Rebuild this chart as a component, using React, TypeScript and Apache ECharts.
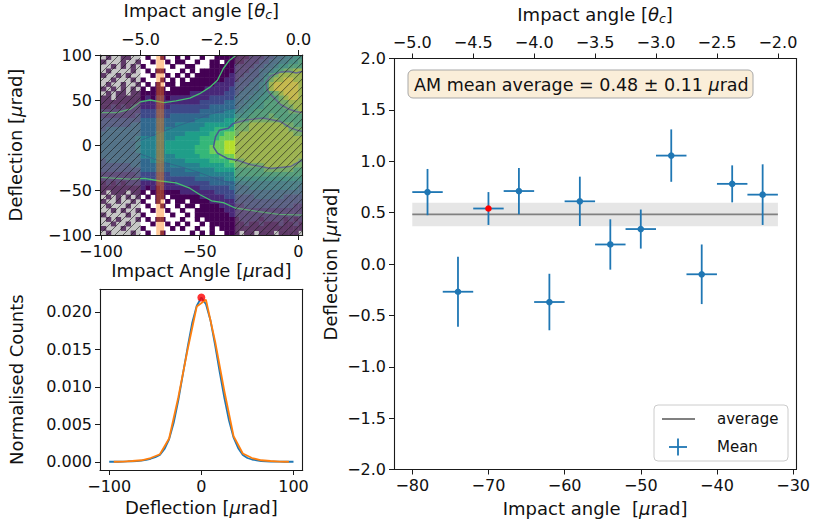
import React, { useEffect, useRef } from "react";
import * as echarts from "echarts";

const FONT = "DejaVu Sans, Verdana, sans-serif";
const BLUE = "#1f77b4";
const ORANGE = "#ff7f0e";
const INK = "#111111";
const VIRIDIS = ["#440154", "#482878", "#3e4989", "#31688e", "#26828e", "#1f9e89", "#35b779", "#6ece58", "#b5de2b", "#fde725"];
const THETA_C = 16; // µrad per critical angle

// ---------- right panel: mean deflection per impact-angle bin ----------
const BIN_ANGLE = [-78, -74, -70, -66, -62, -58, -54, -50, -46, -42, -38, -34];
const BIN_MEAN = [0.7, -0.27, 0.54, 0.71, -0.37, 0.61, 0.19, 0.34, 1.055, -0.1, 0.78, 0.675];
const BIN_YERR = [0.225, 0.34, 0.16, 0.225, 0.275, 0.24, 0.245, 0.19, 0.255, 0.29, 0.18, 0.295];
const BIN_XERR = [2, 2, 2, 2, 2, 2, 2, 2, 2, 2, 2, 2];
const SELECTED_ANGLE = -70;
const AVG = 0.482;
const AVG_ERR = 0.115;
const AVG_SPAN = [-80, -32];
const MEAN_X_RANGE = [-82.4, -29.6];
const MEAN_X_TICKS = [-80, -70, -60, -50, -40, -30];
const MEAN_Y_TICKS = [-2, -1.5, -1, -0.5, 0, 0.5, 1, 1.5, 2];
const MEAN_THETA_TICKS = [-5, -4.5, -4, -3.5, -3, -2.5, -2];

// ---------- lower-left panel: deflection distribution of the selected slice ----------
const DIST_X_FINE = [-100, -95, -90, -85, -80, -75, -70, -65, -60, -55, -50, -45, -40, -35, -30, -25, -20, -15, -10, -5, 0, 5, 10, 15, 20, 25, 30, 35, 40, 45, 50, 55, 60, 65, 70, 75, 80, 85, 90, 95, 100];
const DIST_FINE = [0, 0, 0, 0.00002, 0.00004, 0.00007, 0.0001, 0.00015, 0.00025, 0.0004, 0.0006, 0.0009, 0.0017, 0.003, 0.0052, 0.0082, 0.0117, 0.0152, 0.0185, 0.0208, 0.0219, 0.021, 0.0188, 0.0155, 0.0119, 0.0085, 0.0055, 0.0032, 0.0018, 0.0009, 0.0005, 0.0003, 0.0002, 0.0001, 0.00006, 0.00003, 0.00002, 0.00001, 0, 0, 0];
const DIST_X_COARSE = [-95, -85, -75, -65, -55, -45, -35, -25, -15, -5, 5, 15, 25, 35, 45, 55, 65, 75, 85, 95];
const DIST_COARSE = [0, 0.00003, 0.0001, 0.0002, 0.0005, 0.001, 0.0031, 0.0086, 0.0149, 0.0207, 0.0216, 0.016, 0.0094, 0.0034, 0.0011, 0.0005, 0.0002, 0.0001, 0.00003, 0];
const DIST_PEAK = [0, 0.0219];
const DIST_X_RANGE = [-110, 110];
const DIST_Y_RANGE = [-0.0011, 0.023];
const DIST_X_TICKS = [-100, 0, 100];
const DIST_Y_TICKS = [0, 0.005, 0.01, 0.015, 0.02];

// ---------- top-left panel: 2D histogram (deflection vs impact angle) ----------
// each row: 41 bins of 2.5 in x starting at -100, row r covers deflection 100-5r .. 95-5r
// '.' = empty bin, digits = colour level (viridis)
const HEAT_X_START = -100;
const HEAT_X_STEP = 2.5;
const HEAT_Y_TOP = 100;
const HEAT_Y_STEP = 5;
const HEAT_ROWS = [
  ".0..00.. .0.. 0..0 .0.. 0..0 000 00011122334455",
  "0...0..0 ..0. .0.0 0..0 ..00 .00 00111223344556",
  "..0.0.0. 0... ..0. .00. ..00 000 11112233455666",
  ".0....0. .0.0 0... 0.0. 0000 000 11122334567788",
  "0..0.0.. ..0. .0.0 .0.0 0000 001 11222346788888",
  "..0...0. 0... 0.0. 0.00 0000 011 12223357889988",
  ".0..0..0 .0.0 .00. 0000 0001 111 22233458999998",
  "0.0.0.0. 0.00 0.00 0000 0111 112 22333458999998",
  ".0.00.00 0000 0000 0011 1111 122 23334456789998",
  "00.00000 0101 1011 1111 1122 222 33344556678998",
  "00000000 1111 1111 1111 2222 233 33445566677888",
  "00101011 1111 1122 2222 2233 333 34455566667788",
  "11111111 2222 2222 2222 3333 344 44556666666778",
  "11111112 2222 2233 3333 3344 444 55566667666666",
  "22222222 3333 3333 3334 4444 455 66677777766666",
  "22222233 3333 3334 4444 4555 555 77788888887766",
  "23333333 3333 3444 4444 5556 666 77788888888777",
  "33333333 3334 4444 4555 5566 677 78888888888877",
  "33333334 4444 4445 5555 6666 777 88888888888888",
  "33333334 4444 4555 5555 6667 788 88888888888888",
  "33333334 4444 4555 5556 6677 788 88888888888888",
  "33333334 4444 4555 5556 6677 788 88888888888888",
  "33333333 4444 4445 5555 6666 777 88888888888888",
  "23333333 3344 4444 4555 5566 667 77888888888887",
  "22222233 3333 3344 4444 5555 566 77777788888877",
  "22222222 3333 3333 3444 4445 555 66666677777766",
  "11111112 2222 2233 3333 4444 444 66666666666666",
  "11111111 2222 2222 2223 3333 344 55555555555555",
  "01010111 1111 1112 2222 2233 333 44444444444444",
  "00000000 1010 1111 1111 2222 223 33344444444443",
  "0.000.00 0.00 0000 1111 1112 222 33333333333333",
  ".0.0.0.0 .0.0 0.00 0000 1111 122 22223333332222",
  "0..0..0. 0..0 .0.0 0.00 0011 111 22222222222222",
  ".0...0.. .0.. 0..0 .00. 0000 111 11222222222211",
  "..0.0..0 ..0. .0.. 0..0 0000 011 11111111111111",
  "0....0.. 0... ..0. .0.0 0000 001 11111111111111",
  ".0.0...0 .0.0 0... 0..0 .000 000 01111011110101",
  "..0..0.. ..0. .0.0 .0.. 0.00 000 00100100010010",
  "0...0... 0... ..0. 0..0 ..0. 000 00000000000000",
  ".0....0. .0.. 0... ..0. 0.0. .00 0.00.000.0000.",
];
const HEAT_X_RANGE = [-100.5, 2.2];
const HEAT_Y_RANGE = [-100, 100];
const HEAT_X_TICKS = [-100, -50, 0];
const HEAT_Y_TICKS = [-100, -50, 0, 50, 100];
const HEAT_THETA_TICKS = [-5, -2.5, 0];
const ROI = [-80, -32];
const SLICE = [-72, -68];

// contour lines of the histogram (impact angle, deflection)
const CONTOUR_BLOB = [[2.2, 82], [-1, 80], [-5, 82], [-9, 81], [-14, 77], [-16.5, 70], [-16, 62], [-14, 56], [-9, 45], [-5, 40], [-1, 37], [2.2, 36]];
const CONTOUR_CORE = [[2.2, 15], [0, 16], [-4, 19], [-9, 26], [-18, 30], [-26, 28], [-33, 24], [-35.5, 18.5], [-40, 16.5], [-42, 9], [-43, -2], [-41, -9], [-36, -15], [-31, -17], [-24, -22], [-14, -26], [-4, -24], [0, -19], [2.2, -17]];
const CONTOUR_MID_UP = [[-86, 2], [-80, 5], [-70, 14], [-60, 22], [-51, 29], [-45, 34], [-38, 38], [-32, 41], [-26, 46]];
const CONTOUR_MID_LO = [[-86, -8], [-80, -10], [-70, -18], [-60, -24], [-51, -30], [-45, -35], [-38, -40], [-32, -43], [-26, -47]];
const CONTOUR_EDGE_UP = [[-100.5, 36], [-92, 36], [-85, 40], [-80, 48], [-75, 50], [-68, 47], [-62, 49], [-55, 52], [-50, 57], [-45, 64], [-41, 72], [-38, 85], [-35, 94], [-32, 99]];
const CONTOUR_EDGE_LO = [[-100.5, -36], [-92, -37], [-85, -38], [-78, -37], [-70, -40], [-62, -42], [-55, -48], [-50, -55], [-44, -62], [-38, -64], [-32, -70], [-20, -74], [-10, -77], [2.2, -78]];

// ---------- helpers ----------
const minus = (s: string) => s.replace("-", "\u2212");
const f0 = (v: number) => minus(String(Math.round(v)));
const f1 = (v: number) => minus(v.toFixed(1));
const f3 = (v: number) => minus(v.toFixed(3));

const LINE = { color: "#1a1a1a", width: 1.1 };
const nameRich = {
  a: { fontFamily: FONT, fontSize: 18, color: INK },
  i: { fontFamily: FONT, fontSize: 18, color: INK, fontStyle: "italic" },
  s: { fontFamily: FONT, fontSize: 12.5, color: INK, fontStyle: "italic", verticalAlign: "bottom", padding: [8, 0, 0, 0] },
};

function axis(grid: number, pos: string, range: number[], ticks: number[] | null, fmt: any, extra: any = {}) {
  return {
    type: "value",
    gridIndex: grid,
    position: pos,
    min: range[0],
    max: range[1],
    z: 10,
    axisLine: { show: true, onZero: false, lineStyle: LINE },
    axisTick: ticks
      ? { show: true, length: 5, lineStyle: { color: "#1a1a1a", width: 1 }, customValues: ticks }
      : { show: false },
    axisLabel: ticks
      ? { show: true, customValues: ticks, formatter: fmt, fontFamily: FONT, fontSize: 16, color: INK, margin: 8, lineHeight: 16 }
      : { show: false },
    splitLine: { show: false },
    nameTextStyle: { rich: nameRich },
    nameLocation: "middle",
    ...extra,
  };
}

const heatCells: number[][] = [];
HEAT_ROWS.forEach((row, r) => {
  const s = row.replace(/ /g, "");
  for (let c = 0; c < s.length; c++) {
    const ch = s[c];
    if (ch === ".") continue;
    heatCells.push([HEAT_X_START + c * HEAT_X_STEP, HEAT_Y_TOP - r * HEAT_Y_STEP, Number(ch)]);
  }
});

const contour = (data: number[][], color: string, width: number) => ({
  type: "line",
  xAxisIndex: 0,
  yAxisIndex: 0,
  data,
  symbol: "none",
  silent: true,
  z: 2,
  lineStyle: { color, width },
});

function buildOption() {
  return {
    animation: false,
    backgroundColor: "#ffffff",
    grid: [
      { left: 100, top: 55, width: 202.7, height: 180 },
      { left: 100, top: 289.3, width: 202.7, height: 180.7 },
      { left: 394, top: 55, width: 403.3, height: 414.5 },
    ],
    xAxis: [
      axis(0, "bottom", HEAT_X_RANGE, HEAT_X_TICKS, f0, { name: "{a|Impact Angle [}{i|μ}{a|rad]}", nameGap: 26 }),
      axis(0, "top", [HEAT_X_RANGE[0] / THETA_C, HEAT_X_RANGE[1] / THETA_C], HEAT_THETA_TICKS, f1, {
        name: "{a|Impact angle [}{i|θ}{s|c}{a|]}",
        nameGap: 34,
      }),
      axis(1, "bottom", DIST_X_RANGE, DIST_X_TICKS, f0, { name: "{a|Deflection [}{i|μ}{a|rad]}", nameGap: 28 }),
      axis(1, "top", DIST_X_RANGE, null, null),
      axis(2, "bottom", MEAN_X_RANGE, MEAN_X_TICKS, f0, { name: "{a|Impact angle  [}{i|μ}{a|rad]}", nameGap: 30 }),
      axis(2, "top", [MEAN_X_RANGE[0] / THETA_C, MEAN_X_RANGE[1] / THETA_C], MEAN_THETA_TICKS, f1, {
        name: "{a|Impact angle [}{i|θ}{s|c}{a|]}",
        nameGap: 34,
      }),
    ],
    yAxis: [
      axis(0, "left", HEAT_Y_RANGE, HEAT_Y_TICKS, f0, { name: "{a|Deflection [}{i|μ}{a|rad]}", nameGap: 76 }),
      axis(0, "right", HEAT_Y_RANGE, null, null),
      axis(1, "left", DIST_Y_RANGE, DIST_Y_TICKS, f3, { name: "{a|Normalised Counts}", nameGap: 75 }),
      axis(1, "right", DIST_Y_RANGE, null, null),
      axis(2, "left", [-2, 2], MEAN_Y_TICKS, f1, { name: "{a|Deflection [}{i|μ}{a|rad]}", nameGap: 55 }),
      axis(2, "right", [-2, 2], null, null),
    ],
    series: [
      {
        type: "custom",
        xAxisIndex: 0,
        yAxisIndex: 0,
        clip: true,
        silent: true,
        z: 1,
        encode: { x: 0, y: 1 },
        data: heatCells,
        renderItem: (_p: any, api: any) => {
          const x0 = api.value(0);
          const y0 = api.value(1);
          const lv = api.value(2);
          const a = api.coord([x0, y0]);
          const b = api.coord([x0 + HEAT_X_STEP, y0 - HEAT_Y_STEP]);
          return {
            type: "rect",
            shape: { x: a[0], y: a[1], width: b[0] - a[0] + 0.4, height: b[1] - a[1] + 0.4 },
            style: { fill: VIRIDIS[lv] },
          };
        },
      },
      contour(CONTOUR_MID_UP, "rgba(59,82,139,0.55)", 1),
      contour(CONTOUR_MID_LO, "rgba(59,82,139,0.55)", 1),
      contour(CONTOUR_EDGE_UP, "#45bf70", 1.3),
      contour(CONTOUR_EDGE_LO, "#45bf70", 1.3),
      contour(CONTOUR_BLOB, "#4a5893", 1.5),
      contour(CONTOUR_CORE, "#4a5893", 1.5),
      {
        type: "custom",
        xAxisIndex: 0,
        yAxisIndex: 0,
        clip: true,
        silent: true,
        z: 3,
        encode: { x: [0, 1] },
        data: [[SLICE[0], SLICE[1]]],
        renderItem: (_p: any, api: any) => {
          const a = api.coord([api.value(0), HEAT_Y_RANGE[1]]);
          const b = api.coord([api.value(1), HEAT_Y_RANGE[0]]);
          return {
            type: "rect",
            shape: { x: a[0], y: a[1], width: b[0] - a[0], height: b[1] - a[1] },
            style: { fill: "rgba(255,127,14,0.42)" },
          };
        },
      },
      {
        type: "custom",
        xAxisIndex: 0,
        yAxisIndex: 0,
        clip: true,
        silent: true,
        z: 4,
        encode: { x: [0, 1] },
        data: [
          [HEAT_X_RANGE[0], ROI[0]],
          [ROI[1], HEAT_X_RANGE[1]],
        ],
        renderItem: (_p: any, api: any) => {
          const a = api.coord([api.value(0), HEAT_Y_RANGE[1]]);
          const b = api.coord([api.value(1), HEAT_Y_RANGE[0]]);
          const x0 = a[0], y0 = a[1], x1 = b[0], y1 = b[1];
          const children: any[] = [
            { type: "rect", shape: { x: x0, y: y0, width: x1 - x0, height: y1 - y0 }, style: { fill: "rgba(128,128,128,0.45)" } },
          ];
          const step = 8;
          for (let k = x0 + y0 + 3; k <= x1 + y1; k += step) {
            const sx = Math.max(x0, k - y1);
            const ex = Math.min(x1, k - y0);
            if (ex > sx) {
              children.push({
                type: "line",
                shape: { x1: sx, y1: k - sx, x2: ex, y2: k - ex },
                style: { stroke: "rgba(20,20,20,0.75)", lineWidth: 0.8 },
              });
            }
          }
          return { type: "group", children };
        },
      },
      {
        type: "line",
        xAxisIndex: 2,
        yAxisIndex: 2,
        data: DIST_X_FINE.map((x, i) => [x, DIST_FINE[i]]),
        symbol: "none",
        z: 2,
        lineStyle: { color: BLUE, width: 1.8 },
      },
      {
        type: "line",
        xAxisIndex: 2,
        yAxisIndex: 2,
        data: DIST_X_COARSE.map((x, i) => [x, DIST_COARSE[i]]),
        symbol: "none",
        z: 3,
        lineStyle: { color: ORANGE, width: 1.8 },
      },
      {
        type: "scatter",
        xAxisIndex: 2,
        yAxisIndex: 2,
        data: [DIST_PEAK],
        symbolSize: 8,
        z: 4,
        itemStyle: { color: "#ff0000" },
      },
      {
        type: "line",
        name: "average",
        xAxisIndex: 4,
        yAxisIndex: 4,
        data: [
          [AVG_SPAN[0], AVG],
          [AVG_SPAN[1], AVG],
        ],
        symbol: "none",
        z: 2,
        lineStyle: { color: "#808080", width: 1.8 },
        markArea: {
          silent: true,
          itemStyle: { color: "rgba(128,128,128,0.2)" },
          data: [[{ coord: [AVG_SPAN[0], AVG - AVG_ERR] }, { coord: [AVG_SPAN[1], AVG + AVG_ERR] }]],
        },
      },
      {
        type: "custom",
        name: "Mean",
        xAxisIndex: 4,
        yAxisIndex: 4,
        z: 5,
        encode: { x: 0, y: 1 },
        data: BIN_ANGLE.map((x, i) => [x, BIN_MEAN[i], BIN_XERR[i], BIN_YERR[i]]),
        renderItem: (_p: any, api: any) => {
          const x = api.value(0), y = api.value(1), xe = api.value(2), ye = api.value(3);
          const c = api.coord([x, y]);
          const l = api.coord([x - xe, y]);
          const r = api.coord([x + xe, y]);
          const t = api.coord([x, y + ye]);
          const b = api.coord([x, y - ye]);
          return {
            type: "group",
            children: [
              { type: "line", shape: { x1: l[0], y1: l[1], x2: r[0], y2: r[1] }, style: { stroke: BLUE, lineWidth: 1.8 } },
              { type: "line", shape: { x1: t[0], y1: t[1], x2: b[0], y2: b[1] }, style: { stroke: BLUE, lineWidth: 1.8 } },
              { type: "circle", shape: { cx: c[0], cy: c[1], r: 3.3 }, style: { fill: x === SELECTED_ANGLE ? "#ff0000" : BLUE } },
            ],
          };
        },
      },
    ],
    graphic: [
      {
        type: "rect",
        z: 100,
        shape: { x: 408, y: 70, width: 345, height: 28, r: 5 },
        style: { fill: "#faeed9", stroke: "#a8a8a8", lineWidth: 1 },
      },
      {
        type: "text",
        z: 101,
        x: 414,
        y: 84.5,
        style: {
          text: "{a|AM mean average = 0.48 ± 0.11 }{i|μ}{a|rad}",
          verticalAlign: "middle",
          rich: {
            a: { fontFamily: FONT, fontSize: 17.5, fill: INK, color: INK },
            i: { fontFamily: FONT, fontSize: 17.5, fill: INK, color: INK, fontStyle: "italic" },
          },
        },
      },
      {
        type: "rect",
        z: 100,
        shape: { x: 654, y: 405, width: 134, height: 56, r: 4 },
        style: { fill: "rgba(255,255,255,0.8)", stroke: "#cccccc", lineWidth: 1 },
      },
      { type: "line", z: 101, shape: { x1: 662, y1: 419, x2: 695, y2: 419 }, style: { stroke: "#808080", lineWidth: 1.8 } },
      { type: "text", z: 101, x: 717, y: 419, style: { text: "average", fontFamily: FONT, fontSize: 15, fill: INK, verticalAlign: "middle" } },
      { type: "line", z: 101, shape: { x1: 669, y1: 447, x2: 687, y2: 447 }, style: { stroke: BLUE, lineWidth: 1.8 } },
      { type: "line", z: 101, shape: { x1: 678, y1: 438.5, x2: 678, y2: 455.5 }, style: { stroke: BLUE, lineWidth: 1.8 } },
      { type: "text", z: 101, x: 717, y: 447, style: { text: "Mean", fontFamily: FONT, fontSize: 15, fill: INK, verticalAlign: "middle" } },
    ],
  };
}

export default function App() {
  const ref = useRef<HTMLDivElement>(null);
  useEffect(() => {
    if (!ref.current) return;
    const chart = echarts.init(ref.current, undefined, { renderer: "svg" });
    chart.setOption(buildOption() as any);
    return () => chart.dispose();
  }, []);
  return (
    <div
      ref={ref}
      style={{ position: "fixed", left: 0, top: 0, width: 813, height: 526, background: "#ffffff" }}
    />
  );
}
